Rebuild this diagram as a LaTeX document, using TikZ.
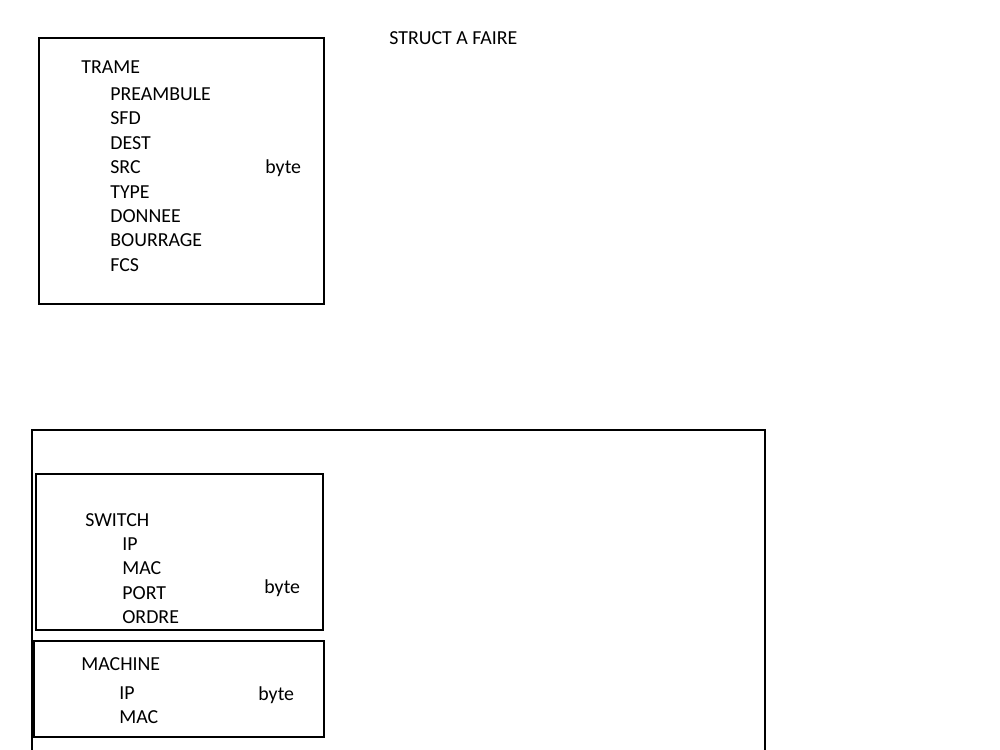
\documentclass[tikz,border=0pt]{standalone}
\usepackage{fontspec}
\setmainfont{Carlito}
\begin{document}
\begin{tikzpicture}[x=0.02cm,y=-0.02cm,
  lbl/.style={anchor=base west,inner sep=0pt,font=\fontsize{11.3pt}{13pt}\selectfont},
  boxr/.style={draw,line width=1.1pt,anchor=north west,inner sep=0pt,outer sep=0pt,rectangle}]
\useasboundingbox (0,0) rectangle (1000,750);
\clip (0,0) rectangle (1000,750);
% boxes
\node[boxr,minimum width=5.70cm,minimum height=5.32cm] (trame) at (39,38) {};
\node[boxr,minimum width=14.66cm,minimum height=6.8cm] (big) at (32,430) {};
\node[boxr,minimum width=5.74cm,minimum height=3.12cm] (switch) at (36,474) {};
\node[boxr,minimum width=5.80cm,minimum height=1.92cm] (machine) at (34,641) {};
% title
\node[lbl] (title) at (389,44.2) {STRUCT A FAIRE};
% trame
\node[lbl] (t0) at (81,73.2) {TRAME};
\node[lbl] (t1) at (110,100.2) {PREAMBULE};
\node[lbl] (t2) at (110,124.2) {SFD};
\node[lbl] (t3) at (110,149.2) {DEST};
\node[lbl] (t4) at (110,173.2) {SRC};
\node[lbl] (t5) at (110,198.2) {TYPE};
\node[lbl] (t6) at (110,222.2) {DONNEE};
\node[lbl] (t7) at (110,246.2) {BOURRAGE};
\node[lbl] (t8) at (110,271.2) {FCS};
\node[lbl] (tb) at (265,173.2) {byte};
% switch
\node[lbl] (s0) at (85,526.2) {SWITCH};
\node[lbl] (s1) at (122,550.2) {IP};
\node[lbl] (s2) at (122,574.2) {MAC};
\node[lbl] (s3) at (122,599.2) {PORT};
\node[lbl] (s4) at (122,623.2) {ORDRE};
\node[lbl] (sb) at (264,593.2) {byte};
% machine
\node[lbl] (m0) at (81,670.2) {MACHINE};
\node[lbl] (m1) at (119,699.2) {IP};
\node[lbl] (m2) at (119,723.2) {MAC};
\node[lbl] (mb) at (258,700.2) {byte};
\end{tikzpicture}
\end{document}
